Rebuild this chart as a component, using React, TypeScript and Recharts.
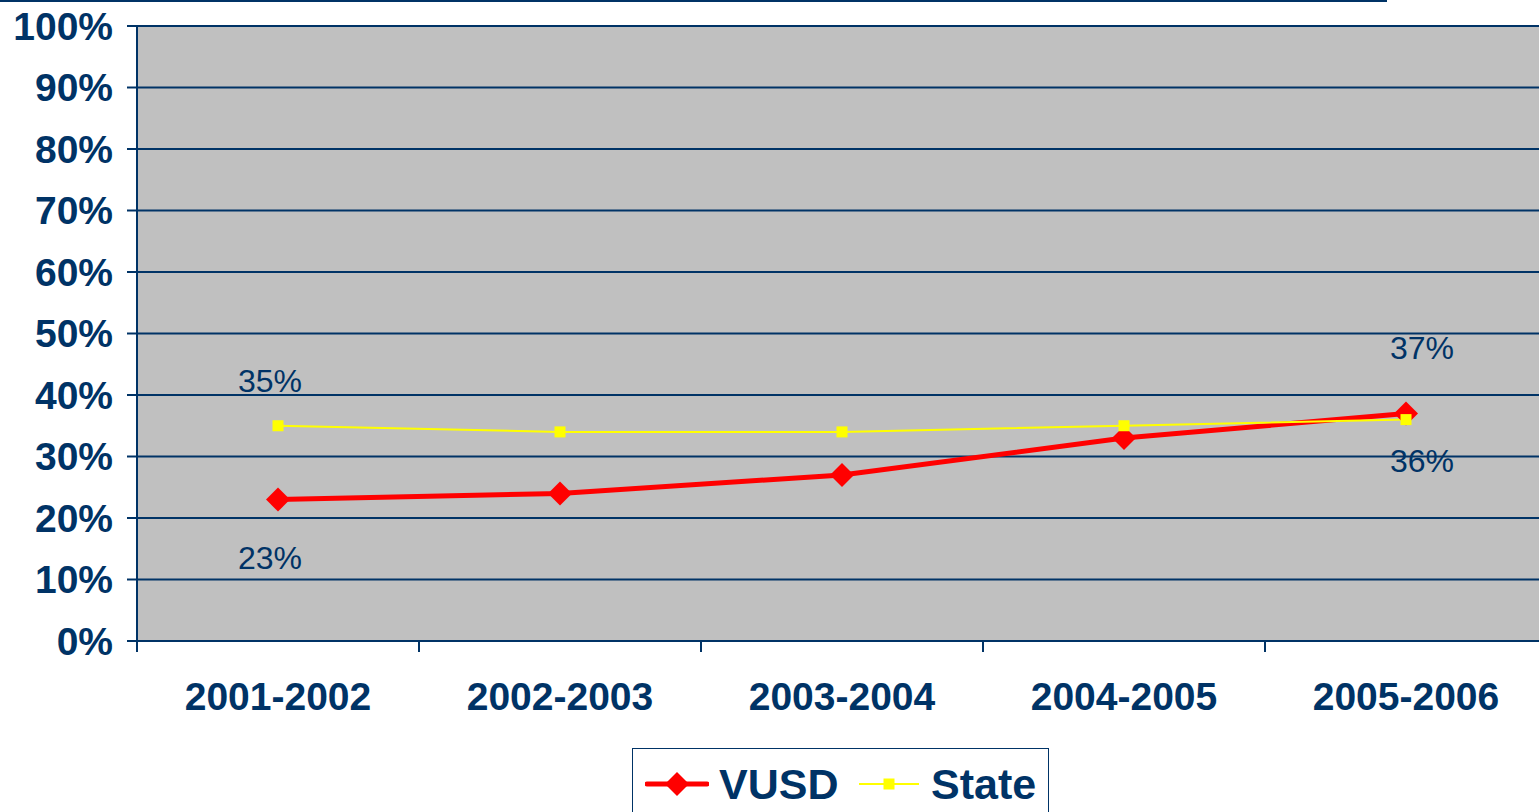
import { LineChart, Line, XAxis, YAxis, CartesianGrid, Legend, LabelList } from "recharts";

const YEARS = ["2001-2002", "2002-2003", "2003-2004", "2004-2005", "2005-2006"];
const VUSD = [23, 24, 27, 33, 37];
const STATE = [35, 34, 34, 35, 36];
const Y_TICKS = [0, 10, 20, 30, 40, 50, 60, 70, 80, 90, 100];

const NAVY = "#003366";
const FONT = "'Liberation Sans', Arial, Helvetica, sans-serif";
const CHART_W = 1547;
const CHART_H = 812;
const LEFT = 137;
const HALF_BAND = (CHART_W - LEFT) / YEARS.length / 2;

const data = YEARS.map((year, i) => ({ year, vusd: VUSD[i], state: STATE[i] }));

const renderDiamond = (p: any) => {
  const { cx, cy, index } = p;
  if (cx == null || cy == null) return <g key={`vd-${index}`} />;
  const r = 12;
  return (
    <path
      key={`vd-${index}`}
      d={`M${cx},${cy - r} L${cx + r},${cy} L${cx},${cy + r} L${cx - r},${cy} Z`}
      fill="#ff0000"
    />
  );
};

const renderSquare = (p: any) => {
  const { cx, cy, index } = p;
  if (cx == null || cy == null) return <g key={`sq-${index}`} />;
  return <rect key={`sq-${index}`} x={cx - 5.5} y={cy - 5.5} width={11} height={11} fill="#ffff00" />;
};

// Excel-style label placement: only first and last points are labelled
const labelFor = (series: "vusd" | "state") => (p: any) => {
  const { x, y, value, index } = p;
  const last = YEARS.length - 1;
  if (index !== 0 && index !== last) return null;
  const dx = index === 0 ? -8 : 16;
  let dy = 0;
  if (series === "vusd") dy = index === 0 ? 69 : -54;
  else dy = index === 0 ? -34 : 52;
  return (
    <text
      key={`${series}-l-${index}`}
      x={x + dx}
      y={y + dy}
      textAnchor="middle"
      fill={NAVY}
      fontSize={32}
      fontFamily={FONT}
    >
      {`${value}%`}
    </text>
  );
};

const XTick = (props: any) => {
  const { x, y, payload, index } = props;
  const axisY = y - 11;
  return (
    <g>
      <line x1={x - HALF_BAND} y1={axisY} x2={x - HALF_BAND} y2={axisY + 11} stroke={NAVY} strokeWidth={2} />
      {index === YEARS.length - 1 && (
        <line x1={x + HALF_BAND} y1={axisY} x2={x + HALF_BAND} y2={axisY + 11} stroke={NAVY} strokeWidth={2} />
      )}
      <text
        x={x}
        y={y + 58}
        textAnchor="middle"
        fill={NAVY}
        fontSize={39}
        fontWeight="bold"
        fontFamily={FONT}
      >
        {payload.value}
      </text>
    </g>
  );
};

const LegendBox = () => (
  <div
    style={{
      boxSizing: "border-box",
      width: 417,
      height: 72,
      border: `1px solid ${NAVY}`,
      background: "#fff",
      display: "flex",
      alignItems: "center",
      paddingLeft: 12,
      fontFamily: FONT,
      fontWeight: "bold",
      fontSize: 43,
      color: NAVY,
      whiteSpace: "nowrap",
    }}
  >
    <svg width={64} height={28} style={{ flex: "none" }}>
      <line x1={2} y1={14} x2={62} y2={14} stroke="#ff0000" strokeWidth={5} strokeLinecap="round" />
      <path d="M32,2 L44,14 L32,26 L20,14 Z" fill="#ff0000" />
    </svg>
    <span style={{ marginLeft: 10, width: 120, flex: "none" }}>VUSD</span>
    <svg width={60} height={28} style={{ marginLeft: 20, flex: "none" }}>
      <line x1={0} y1={14} x2={60} y2={14} stroke="#ffff00" strokeWidth={2} />
      <rect x={24.5} y={8.5} width={11} height={11} fill="#ffff00" />
    </svg>
    <span style={{ marginLeft: 12, flex: "none" }}>State</span>
  </div>
);

export default function App() {
  return (
    <div
      style={{
        position: "absolute",
        left: 0,
        top: 0,
        width: 1539,
        height: 812,
        overflow: "hidden",
        background: "#fff",
      }}
    >
      <div style={{ position: "absolute", left: 0, top: 0, width: 1387, height: 2, background: NAVY }} />
      <LineChart
        width={CHART_W}
        height={CHART_H}
        data={data}
        margin={{ top: 26, right: 0, left: 0, bottom: 111 }}
      >
        <CartesianGrid vertical={false} stroke={NAVY} strokeWidth={2} fill="#c0c0c0" fillOpacity={1} />
        <XAxis
          dataKey="year"
          scale="point"
          padding={{ left: HALF_BAND, right: HALF_BAND }}
          height={60}
          axisLine={{ stroke: NAVY, strokeWidth: 2 }}
          tickLine={false}
          tickSize={11}
          tickMargin={0}
          tick={<XTick />}
          interval={0}
        />
        <YAxis
          domain={[0, 100]}
          ticks={Y_TICKS}
          width={LEFT}
          tickFormatter={(v) => `${v}%`}
          axisLine={{ stroke: NAVY, strokeWidth: 2 }}
          tickLine={{ stroke: NAVY, strokeWidth: 2 }}
          tickSize={10}
          tickMargin={14}
          tick={{ fill: NAVY, fontSize: 39, fontWeight: "bold", fontFamily: FONT }}
          interval={0}
        />
        <Legend
          verticalAlign="middle"
          align="center"
          layout="horizontal"
          content={<LegendBox />}
          wrapperStyle={{ left: 632, top: 748, width: 417 }}
        />
        <Line
          dataKey="vusd"
          name="VUSD"
          stroke="#ff0000"
          strokeWidth={5}
          dot={renderDiamond}
          activeDot={false}
          isAnimationActive={false}
        >
          <LabelList dataKey="vusd" content={labelFor("vusd")} />
        </Line>
        <Line
          dataKey="state"
          name="State"
          stroke="#ffff00"
          strokeWidth={2}
          dot={renderSquare}
          activeDot={false}
          isAnimationActive={false}
        >
          <LabelList dataKey="state" content={labelFor("state")} />
        </Line>
      </LineChart>
    </div>
  );
}
